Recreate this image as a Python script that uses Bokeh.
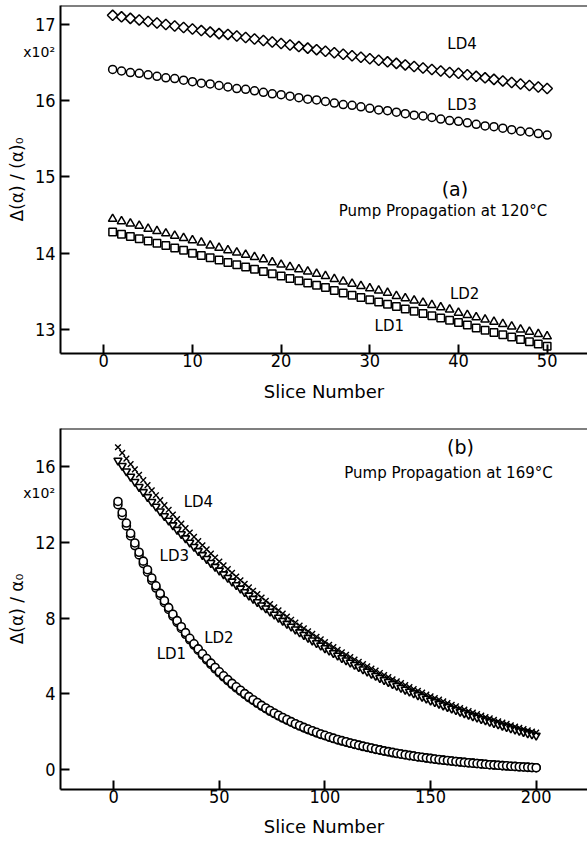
from bokeh.plotting import figure
from bokeh.layouts import column
from bokeh.models import Range1d, FixedTicker, Label, Span, Div
from bokeh.embed import file_html
from bokeh.resources import INLINE

# ---------------- Panel (a): pump propagation at 120 C ----------------
slices_a = [1, 2, 3, 4, 5, 6, 7, 8, 9, 10, 11, 12, 13, 14, 15, 16, 17, 18, 19, 20,
            21, 22, 23, 24, 25, 26, 27, 28, 29, 30, 31, 32, 33, 34, 35, 36, 37, 38, 39, 40,
            41, 42, 43, 44, 45, 46, 47, 48, 49, 50]
ld4_a = [17.12, 17.10, 17.08, 17.06, 17.04, 17.02, 17.00, 16.98, 16.96, 16.94,
         16.92, 16.90, 16.88, 16.87, 16.85, 16.83, 16.81, 16.79, 16.77, 16.75,
         16.73, 16.71, 16.69, 16.67, 16.65, 16.63, 16.61, 16.59, 16.57, 16.55,
         16.53, 16.51, 16.49, 16.47, 16.45, 16.43, 16.41, 16.39, 16.37, 16.36,
         16.34, 16.32, 16.30, 16.28, 16.26, 16.24, 16.22, 16.20, 16.18, 16.16]
ld3_a = [16.41, 16.39, 16.37, 16.36, 16.34, 16.32, 16.30, 16.29, 16.27, 16.25,
         16.23, 16.22, 16.20, 16.18, 16.16, 16.15, 16.13, 16.11, 16.09, 16.08,
         16.06, 16.04, 16.02, 16.01, 15.99, 15.97, 15.95, 15.94, 15.92, 15.90,
         15.88, 15.87, 15.85, 15.83, 15.81, 15.80, 15.78, 15.76, 15.74, 15.73,
         15.71, 15.69, 15.67, 15.66, 15.64, 15.62, 15.60, 15.59, 15.57, 15.55]
ld2_a = [14.45, 14.42, 14.39, 14.36, 14.32, 14.29, 14.26, 14.23, 14.20, 14.17,
         14.14, 14.10, 14.07, 14.04, 14.01, 13.98, 13.95, 13.92, 13.88, 13.85,
         13.82, 13.79, 13.76, 13.73, 13.70, 13.66, 13.63, 13.60, 13.57, 13.54,
         13.51, 13.48, 13.44, 13.41, 13.38, 13.35, 13.32, 13.29, 13.26, 13.22,
         13.19, 13.16, 13.13, 13.10, 13.07, 13.04, 13.00, 12.97, 12.94, 12.91]
ld1_a = [14.28, 14.25, 14.22, 14.19, 14.16, 14.13, 14.10, 14.07, 14.04, 14.00,
         13.97, 13.94, 13.91, 13.88, 13.85, 13.82, 13.79, 13.76, 13.73, 13.70,
         13.67, 13.64, 13.61, 13.58, 13.55, 13.51, 13.48, 13.45, 13.42, 13.39,
         13.36, 13.33, 13.30, 13.27, 13.24, 13.21, 13.18, 13.15, 13.12, 13.09,
         13.06, 13.02, 12.99, 12.96, 12.93, 12.90, 12.87, 12.84, 12.81, 12.78]
xticks_a = [0, 10, 20, 30, 40, 50]
yticks_a = [13, 14, 15, 16, 17]

# ---------------- Panel (b): pump propagation at 169 C ----------------
slices_b = [2, 4, 6, 8, 10, 12, 14, 16, 18, 20, 22, 24, 26, 28, 30, 32, 34, 36, 38, 40,
            42, 44, 46, 48, 50, 52, 54, 56, 58, 60, 62, 64, 66, 68, 70, 72, 74, 76, 78, 80,
            82, 84, 86, 88, 90, 92, 94, 96, 98, 100, 102, 104, 106, 108, 110, 112, 114, 116, 118, 120,
            122, 124, 126, 128, 130, 132, 134, 136, 138, 140, 142, 144, 146, 148, 150, 152, 154, 156, 158, 160,
            162, 164, 166, 168, 170, 172, 174, 176, 178, 180, 182, 184, 186, 188, 190, 192, 194, 196, 198, 200]
ld4_b = [17.01, 16.71, 16.41, 16.12, 15.84, 15.56, 15.28, 15.01, 14.74, 14.48,
         14.22, 13.96, 13.71, 13.46, 13.22, 12.98, 12.74, 12.51, 12.28, 12.06,
         11.84, 11.62, 11.40, 11.19, 10.98, 10.78, 10.58, 10.38, 10.19, 9.99,
         9.80, 9.62, 9.44, 9.26, 9.08, 8.90, 8.73, 8.56, 8.40, 8.23,
         8.07, 7.91, 7.76, 7.60, 7.45, 7.30, 7.16, 7.01, 6.87, 6.73,
         6.59, 6.46, 6.32, 6.19, 6.06, 5.94, 5.81, 5.69, 5.57, 5.45,
         5.33, 5.22, 5.10, 4.99, 4.88, 4.77, 4.66, 4.56, 4.46, 4.35,
         4.25, 4.16, 4.06, 3.96, 3.87, 3.78, 3.69, 3.60, 3.51, 3.42,
         3.34, 3.25, 3.17, 3.09, 3.01, 2.93, 2.85, 2.77, 2.70, 2.63,
         2.55, 2.48, 2.41, 2.34, 2.27, 2.20, 2.14, 2.07, 2.01, 1.95]
ld3_b = [16.31, 16.03, 15.74, 15.46, 15.19, 14.92, 14.65, 14.39, 14.13, 13.88,
         13.63, 13.38, 13.14, 12.90, 12.66, 12.43, 12.21, 11.98, 11.76, 11.54,
         11.33, 11.12, 10.91, 10.71, 10.51, 10.31, 10.12, 9.93, 9.74, 9.56,
         9.37, 9.19, 9.02, 8.84, 8.67, 8.51, 8.34, 8.18, 8.02, 7.86,
         7.70, 7.55, 7.40, 7.25, 7.11, 6.96, 6.82, 6.68, 6.55, 6.41,
         6.28, 6.15, 6.02, 5.89, 5.77, 5.65, 5.53, 5.41, 5.29, 5.18,
         5.06, 4.95, 4.84, 4.73, 4.63, 4.52, 4.42, 4.32, 4.22, 4.12,
         4.03, 3.93, 3.84, 3.75, 3.65, 3.57, 3.48, 3.39, 3.31, 3.22,
         3.14, 3.06, 2.98, 2.90, 2.82, 2.75, 2.67, 2.60, 2.53, 2.46,
         2.39, 2.32, 2.25, 2.18, 2.12, 2.05, 1.99, 1.92, 1.86, 1.80]
ld2_b = [14.15, 13.57, 13.01, 12.47, 11.96, 11.47, 11.00, 10.55, 10.11, 9.70,
         9.30, 8.91, 8.55, 8.20, 7.86, 7.54, 7.23, 6.93, 6.64, 6.37,
         6.11, 5.86, 5.62, 5.39, 5.16, 4.95, 4.75, 4.55, 4.37, 4.19,
         4.01, 3.85, 3.69, 3.54, 3.39, 3.25, 3.12, 2.99, 2.87, 2.75,
         2.64, 2.53, 2.42, 2.33, 2.23, 2.14, 2.05, 1.97, 1.88, 1.81,
         1.73, 1.66, 1.59, 1.53, 1.47, 1.40, 1.35, 1.29, 1.24, 1.19,
         1.14, 1.09, 1.04, 0.99, 0.95, 0.91, 0.86, 0.82, 0.79, 0.75,
         0.72, 0.68, 0.65, 0.62, 0.59, 0.56, 0.53, 0.50, 0.48, 0.45,
         0.43, 0.41, 0.38, 0.36, 0.34, 0.32, 0.30, 0.28, 0.26, 0.25,
         0.23, 0.21, 0.20, 0.18, 0.17, 0.15, 0.14, 0.13, 0.11, 0.10]
ld1_b = [13.98, 13.41, 12.86, 12.33, 11.82, 11.33, 10.87, 10.42, 9.99, 9.58,
         9.19, 8.81, 8.45, 8.10, 7.77, 7.45, 7.14, 6.85, 6.57, 6.30,
         6.04, 5.79, 5.55, 5.32, 5.10, 4.89, 4.69, 4.50, 4.31, 4.14,
         3.97, 3.80, 3.65, 3.50, 3.35, 3.22, 3.08, 2.96, 2.83, 2.72,
         2.61, 2.50, 2.40, 2.30, 2.20, 2.11, 2.03, 1.94, 1.86, 1.79,
         1.71, 1.64, 1.57, 1.51, 1.45, 1.39, 1.33, 1.28, 1.22, 1.17,
         1.12, 1.07, 1.03, 0.98, 0.94, 0.89, 0.85, 0.82, 0.78, 0.74,
         0.71, 0.67, 0.64, 0.61, 0.58, 0.55, 0.52, 0.50, 0.47, 0.45,
         0.42, 0.40, 0.38, 0.36, 0.34, 0.32, 0.30, 0.28, 0.26, 0.24,
         0.23, 0.21, 0.19, 0.18, 0.16, 0.15, 0.14, 0.12, 0.11, 0.10]
xticks_b = [0, 50, 100, 150, 200]
yticks_b = [0, 4, 8, 12, 16]

TICK_FONT = "DejaVu Sans Condensed"
TEXT_FONT = "DejaVu Sans"


def style(p, xticks, yticks, xlabel, ylabel, xlab_standoff):
    p.xaxis[0].ticker = FixedTicker(ticks=xticks)
    p.yaxis[0].ticker = FixedTicker(ticks=yticks)
    p.xaxis.axis_label = xlabel
    p.yaxis.axis_label = ylabel
    for ax in (p.xaxis[0], p.yaxis[0]):
        ax.major_tick_in = 9
        ax.major_tick_out = 0
        ax.minor_tick_line_color = None
        ax.axis_line_width = 2
        ax.axis_line_color = "black"
        ax.major_tick_line_width = 2
        ax.major_tick_line_color = "black"
        ax.major_label_text_font = TICK_FONT
        ax.major_label_text_font_size = "18px"
        ax.major_label_text_color = "black"
        ax.axis_label_text_font = TEXT_FONT
        ax.axis_label_text_font_style = "normal"
        ax.axis_label_text_color = "black"
    p.xaxis.major_label_standoff = 0
    p.xaxis.axis_label_standoff = xlab_standoff
    p.yaxis.major_label_standoff = 5
    p.yaxis.axis_label_standoff = 5
    p.xaxis.axis_label_text_font_size = "18px"
    p.yaxis.axis_label_text_font_size = "17px"
    p.grid.visible = False
    p.outline_line_color = None
    p.background_fill_color = "white"
    p.border_fill_color = "white"
    p.add_layout(Span(location=p.y_range.end, dimension="width",
                      line_color="black", line_width=2))


def label(p, x, y, txt, size, align="center"):
    p.add_layout(Label(x=x, y=y, text=txt, text_font=TEXT_FONT,
                       text_font_size=size, text_align=align,
                       text_baseline="middle", text_color="black"))


# ---------- figure (a) ----------
pa = figure(width=587, height=410,
            x_range=Range1d(-4.88, 54.55), y_range=Range1d(12.685, 17.249),
            output_backend="svg", toolbar_location=None,
            min_border_left=60, min_border_right=0,
            min_border_top=5, min_border_bottom=57)
style(pa, xticks_a, yticks_a, "Slice Number", "Δ(α) / (α)₀", 11)

mk = dict(fill_color="white", line_color="black", line_width=1.5)
pa.scatter(slices_a, ld4_a, marker="square", angle=0.785398, size=7.4, **mk)
pa.scatter(slices_a, ld3_a, marker="circle", size=8, **mk)
pa.scatter(slices_a, ld2_a, marker="triangle", size=8.5, **mk)
pa.scatter(slices_a, ld1_a, marker="square", size=7.5, **mk)

label(pa, 40.4, 16.74, "LD4", "15px")
label(pa, 40.4, 15.95, "LD3", "15px")
label(pa, 40.7, 13.46, "LD2", "15px")
label(pa, 32.2, 13.04, "LD1", "15px")
label(pa, 39.6, 14.84, "(a)", "19px")
label(pa, 38.25, 14.55, "Pump Propagation at 120°C", "15px")

# ---------- figure (b) ----------
pb = figure(width=587, height=432,
            x_range=Range1d(-25.2, 224.3), y_range=Range1d(-1.05, 18.0),
            output_backend="svg", toolbar_location=None,
            min_border_left=60, min_border_right=0,
            min_border_top=18, min_border_bottom=53)
style(pb, xticks_b, yticks_b, "Slice Number", "Δ(α) / α₀", 10)

mkb = dict(fill_color="white", line_color="black", line_width=1.6)
pb.scatter(slices_b, ld1_b, marker="circle", size=8, **mkb)
pb.scatter(slices_b, ld2_b, marker="circle", size=8, **mkb)
pb.scatter(slices_b, ld3_b, marker="inverted_triangle", size=8, **mkb)
pb.scatter(slices_b, ld4_b, marker="x", size=8, line_color="black", line_width=1.4)

label(pb, 164.2, 17.03, "(b)", "19px")
label(pb, 158.5, 15.66, "Pump Propagation at 169°C", "15px")
label(pb, 40.1, 14.13, "LD4", "15px")
label(pb, 28.7, 11.26, "LD3", "15px")
label(pb, 49.8, 6.95, "LD2", "15px")
label(pb, 27.3, 6.11, "LD1", "15px")

# "x10²" scale notes sit in the left margin, outside the plot frames
note_style = {"position": "absolute", "font-family": TEXT_FONT,
              "font-size": "14px", "color": "black", "line-height": "16px",
              "text-align": "right", "margin": "0", "padding": "0"}
note_a = Div(text="x10²", width=34, height=16,
             styles=dict(note_style, left="21px", top="44px"))
note_b = Div(text="x10²", width=34, height=16,
             styles=dict(note_style, left="21px", top="485px"))

layout = column(pa, pb, note_a, note_b, spacing=0)
open("out.html", "w").write(file_html(layout, INLINE))
